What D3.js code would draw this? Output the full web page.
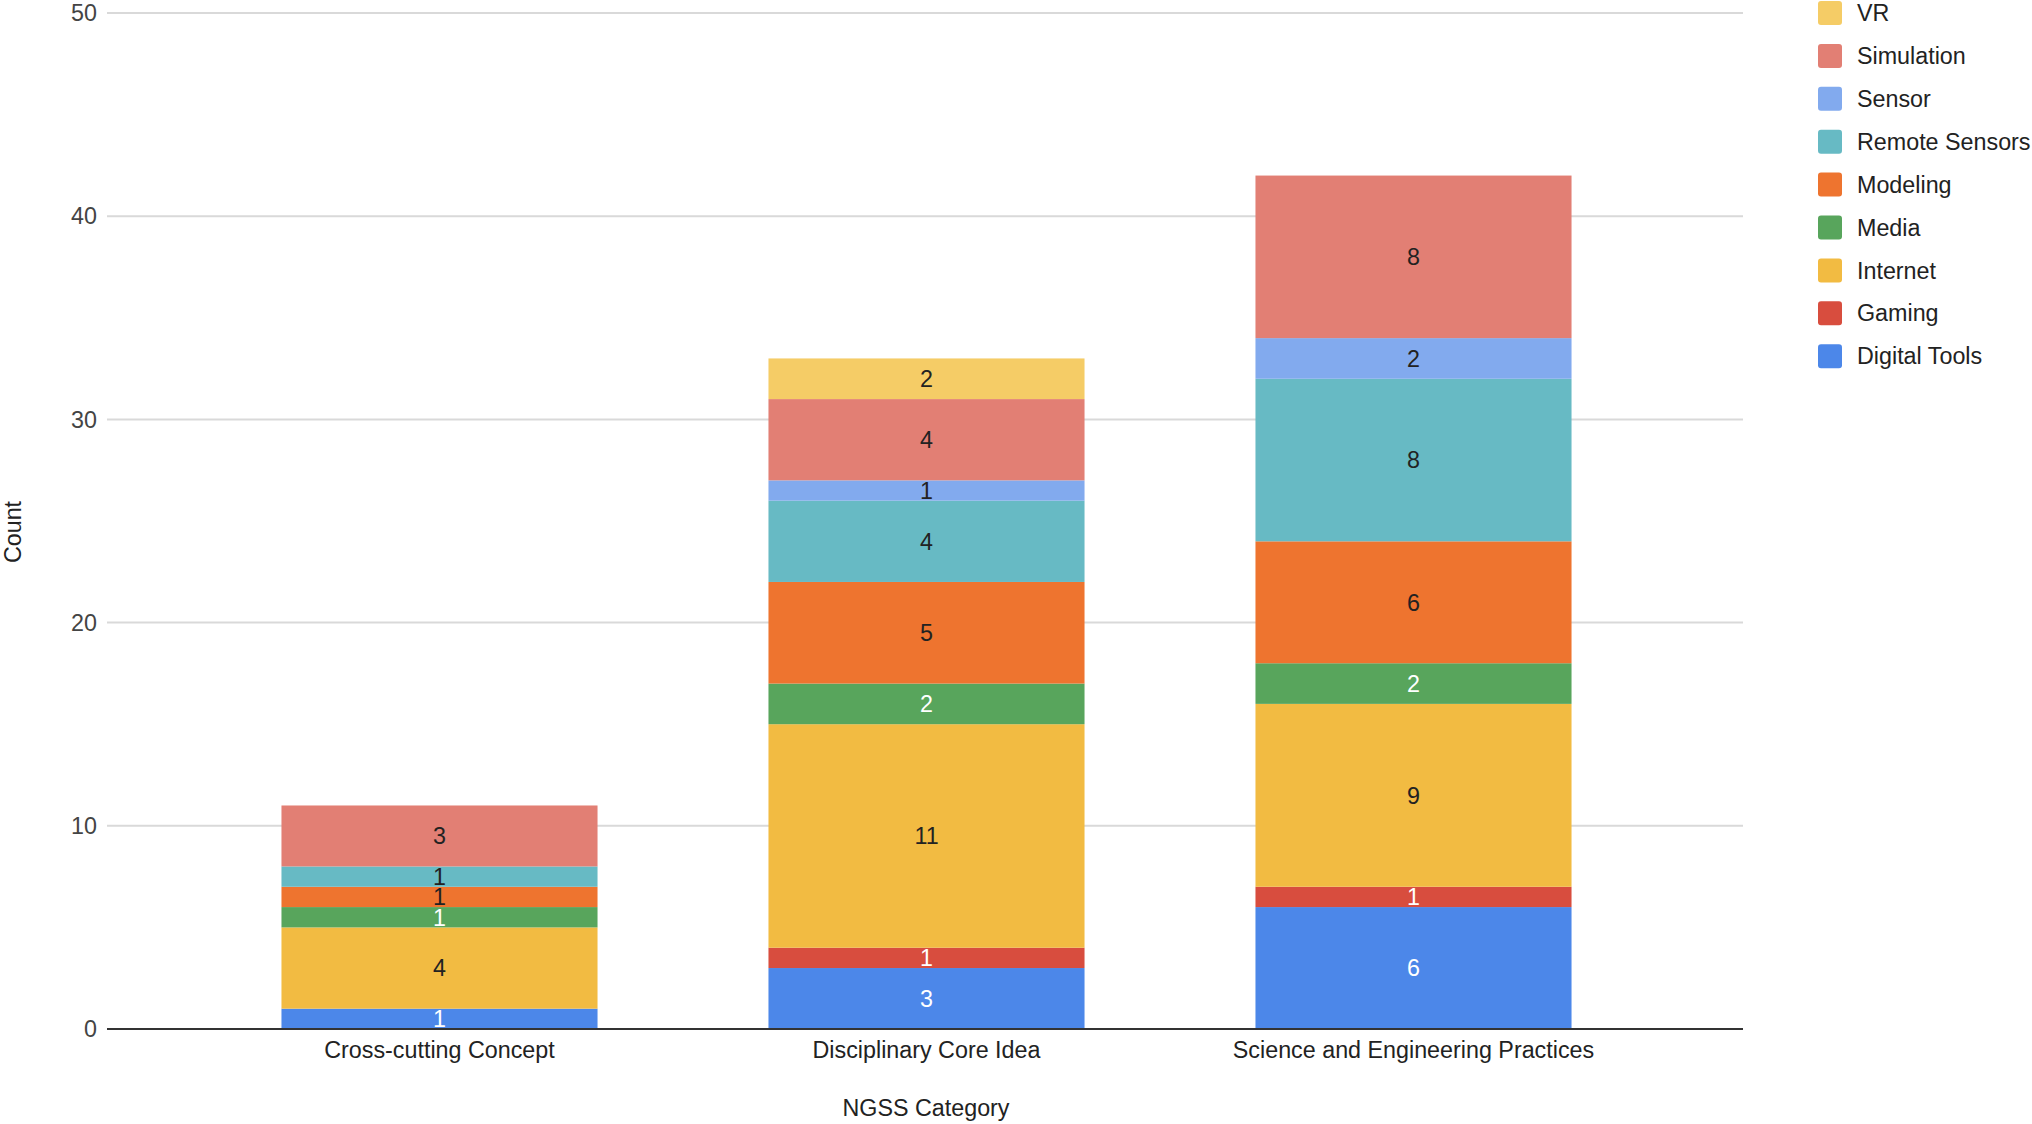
<!DOCTYPE html>
<html>
<head>
<meta charset="utf-8">
<script src="https://cdn.jsdelivr.net/npm/d3@7"></script>
<style>
  html, body { margin: 0; padding: 0; background: #fff; }
  svg { display: block; font-family: "Liberation Sans", Arial, sans-serif; }
</style>
</head>
<body>
<svg id="chart" width="2032" height="1124"></svg>
<script>
// ---- Data ----
const categories = ["Cross-cutting Concept", "Disciplinary Core Idea", "Science and Engineering Practices"];
const seriesNames = ["Digital Tools", "Gaming", "Internet", "Media", "Modeling", "Remote Sensors", "Sensor", "Simulation", "VR"];
const digitalTools  = [1, 3, 6];
const gaming        = [0, 1, 1];
const internet      = [4, 11, 9];
const media         = [1, 2, 2];
const modeling      = [1, 5, 6];
const remoteSensors = [1, 4, 8];
const sensor        = [0, 1, 2];
const simulation    = [3, 4, 8];
const vr            = [0, 2, 0];
const yTicks = [0, 10, 20, 30, 40, 50];
const xTitle = "NGSS Category";
const yTitle = "Count";

const seriesValues = [digitalTools, gaming, internet, media, modeling, remoteSensors, sensor, simulation, vr];
const colors = ["#4c87e9", "#d84d3e", "#f2bb42", "#58a55c", "#ee742f", "#67bac4", "#82aaee", "#e27f74", "#f5cc66"];
const labelColors = ["#ffffff", "#ffffff", "#222222", "#ffffff", "#222222", "#222222", "#222222", "#222222", "#222222"];

const FS = 23.3;

// ---- Build table ----
const rows = categories.map((c, i) => {
  const r = { category: c };
  seriesNames.forEach((s, j) => { r[s] = seriesValues[j][i]; });
  return r;
});
const stacked = d3.stack().keys(seriesNames)(rows);

const svg = d3.select("#chart");

const x = d3.scaleBand().domain(categories).range([196, 1657]).paddingInner(0.351).paddingOuter(0.1755);
const y = d3.scaleLinear().domain([0, 50]).range([1029, 13]);

const gridLeft = 107, gridRight = 1743;

// gridlines
svg.append("g").selectAll("line").data(yTicks.filter(t => t !== 0)).join("line")
  .attr("x1", gridLeft).attr("x2", gridRight)
  .attr("y1", d => y(d)).attr("y2", d => y(d))
  .attr("stroke", "#d9d9d9").attr("stroke-width", 2);

// y tick labels
svg.append("g").selectAll("text").data(yTicks).join("text")
  .attr("x", 97).attr("y", d => y(d)).attr("dy", "0.35em")
  .attr("text-anchor", "end").attr("font-size", FS).attr("fill", "#444")
  .text(d => d);

// bars
const layers = svg.append("g").selectAll("g").data(stacked).join("g")
  .attr("fill", (d, i) => colors[i]);
layers.selectAll("rect").data(d => d.map(p => ({ p, cat: p.data.category }))).join("rect")
  .filter(d => d.p[1] - d.p[0] > 0)
  .attr("x", d => x(d.cat))
  .attr("width", x.bandwidth())
  .attr("y", d => y(d.p[1]))
  .attr("height", d => y(d.p[0]) - y(d.p[1]));

// segment labels
stacked.forEach((layer, i) => {
  svg.append("g").selectAll("text").data(layer.filter(p => p[1] - p[0] > 0)).join("text")
    .attr("x", p => x(p.data.category) + x.bandwidth() / 2)
    .attr("y", p => (y(p[0]) + y(p[1])) / 2)
    .attr("dy", "0.36em")
    .attr("text-anchor", "middle")
    .attr("font-size", FS)
    .attr("fill", labelColors[i])
    .text(p => p[1] - p[0]);
});

// baseline axis
svg.append("line")
  .attr("x1", gridLeft).attr("x2", gridRight)
  .attr("y1", y(0)).attr("y2", y(0))
  .attr("stroke", "#333").attr("stroke-width", 2);

// x labels
svg.append("g").selectAll("text").data(categories).join("text")
  .attr("x", d => x(d) + x.bandwidth() / 2).attr("y", 1058)
  .attr("text-anchor", "middle").attr("font-size", FS).attr("fill", "#222")
  .text(d => d);

// axis titles
svg.append("text").attr("x", 926).attr("y", 1116)
  .attr("text-anchor", "middle").attr("font-size", FS).attr("fill", "#222").text(xTitle);
svg.append("text").attr("transform", "translate(21,532) rotate(-90)")
  .attr("text-anchor", "middle").attr("font-size", FS).attr("fill", "#222").text(yTitle);

// legend (reverse order: top is VR)
const legendItems = seriesNames.map((s, i) => ({ name: s, color: colors[i] })).reverse();
const lg = svg.append("g").selectAll("g").data(legendItems).join("g")
  .attr("transform", (d, i) => `translate(1818, ${13 + i * 42.9})`);
lg.append("rect").attr("x", 0).attr("y", -12).attr("width", 24).attr("height", 24)
  .attr("rx", 3).attr("fill", d => d.color);
lg.append("text").attr("x", 39).attr("y", 0).attr("dy", "0.35em")
  .attr("font-size", FS).attr("fill", "#222").text(d => d.name);
</script>
</body>
</html>
